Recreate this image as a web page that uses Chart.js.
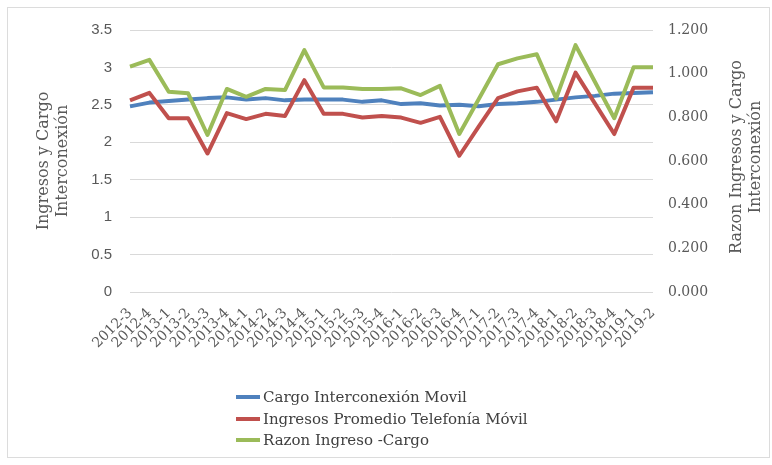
<!DOCTYPE html>
<html>
<head>
<meta charset="utf-8">
<script src="https://cdn.jsdelivr.net/npm/chart.js@4/dist/chart.umd.min.js"></script>
<style>
    html, body { margin: 0; padding: 0; background: #fff; }
    #wrap { position: relative; width: 772px; height: 465px; }
    #frame { position: absolute; left: 7px; top: 7px; width: 761px; height: 449px; border: 1px solid #dcdcdc; pointer-events: none; }
    #legend { position: absolute; left: 236px; top: 387px; font-family: "DejaVu Serif", serif; font-size: 15px; color: #404040; }
    #legend div { height: 21.5px; line-height: 21.5px; white-space: nowrap; }
    #legend span.sw { display: inline-block; width: 24px; height: 4px; vertical-align: middle; margin-right: 3px; position: relative; top: -1px; }
</style>
</head>
<body>
<div id="wrap">
    <canvas id="myChart" width="772" height="465"></canvas>
    <div id="frame"></div>
    <div id="legend"></div>
</div>
<script>
var periodos = ['2012-3', '2012-4', '2013-1', '2013-2', '2013-3', '2013-4', '2014-1', '2014-2', '2014-3', '2014-4',
    '2015-1', '2015-2', '2015-3', '2015-4', '2016-1', '2016-2', '2016-3', '2016-4', '2017-1', '2017-2',
    '2017-3', '2017-4', '2018-1', '2018-2', '2018-3', '2018-4', '2019-1', '2019-2']

var cargoMovil = [2.48, 2.53, 2.55, 2.57, 2.59, 2.60, 2.57, 2.59, 2.56, 2.57, 2.57, 2.57, 2.54, 2.56,
    2.51, 2.52, 2.49, 2.50, 2.48, 2.51, 2.52, 2.54, 2.57, 2.60, 2.62, 2.65, 2.66, 2.67]

var ingresosMovil = [2.56, 2.66, 2.32, 2.32, 1.85, 2.39, 2.31, 2.38, 2.35, 2.83, 2.38, 2.38, 2.33, 2.35,
    2.33, 2.26, 2.34, 1.82, 2.21, 2.59, 2.68, 2.73, 2.28, 2.93, 2.52, 2.11, 2.73, 2.73]

var razonIngresoCargo = [1.032, 1.063, 0.917, 0.910, 0.719, 0.930, 0.894, 0.930, 0.925, 1.108, 0.937, 0.937, 0.930, 0.930,
    0.933, 0.902, 0.944, 0.724, 0.883, 1.043, 1.070, 1.089, 0.887, 1.131, 0.963, 0.796, 1.029, 1.029]

var serieNombres = ['Cargo Interconexión Movil', 'Ingresos Promedio Telefonía Móvil', 'Razon Ingreso -Cargo']
var serieColores = ['#4F81BD', '#C0504D', '#9BBB59']

var tituloIzq = ['Ingresos y Cargo', 'Interconexión']
var tituloDer = ['Razon Ingresos y Cargo', 'Interconexión']

// titulo del eje derecho (se lee de abajo hacia arriba, como el izquierdo)
var rightTitle = {
    id: 'rightTitle',
    afterDraw(chart) {
        const ctx = chart.ctx
        const area = chart.chartArea
        const cy = (area.top + area.bottom) / 2 - 4
        ctx.save()
        ctx.font = '16px "DejaVu Serif"'
        ctx.fillStyle = '#595959'
        ctx.textAlign = 'center'
        ctx.textBaseline = 'middle'
        tituloDer.forEach((t, i) => {
            ctx.save()
            ctx.translate(737 + i * 19, cy)
            ctx.rotate(-Math.PI / 2)
            ctx.fillText(t, 0, 0)
            ctx.restore()
        })
        ctx.restore()
    }
}

var ctx = document.getElementById('myChart').getContext('2d');
var chart = new Chart(ctx, {
    type: 'line',
    data: {
        labels: periodos,
        datasets: [{
            label: serieNombres[0],
            data: cargoMovil,
            borderColor: serieColores[0],
            yAxisID: 'y',
            order: 3
        }, {
            label: serieNombres[1],
            data: ingresosMovil,
            borderColor: serieColores[1],
            yAxisID: 'y',
            order: 2
        }, {
            label: serieNombres[2],
            data: razonIngresoCargo,
            borderColor: serieColores[2],
            yAxisID: 'y1',
            order: 1
        }]
    },
    options: {
        responsive: false,
        animation: false,
        layout: { padding: { top: 30, left: 0, right: 0, bottom: 0 } },
        elements: {
            line: { borderWidth: 4, tension: 0, fill: false, borderJoinStyle: 'round', borderCapStyle: 'butt' },
            point: { radius: 0, hoverRadius: 0 }
        },
        plugins: {
            legend: { display: false },
            tooltip: { enabled: false }
        },
        scales: {
            x: {
                grid: { display: false, drawTicks: false },
                border: { display: false },
                afterFit: s => { s.height = 173 },
                ticks: {
                    autoSkip: false,
                    minRotation: 45,
                    maxRotation: 45,
                    padding: 13,
                    color: '#595959',
                    font: { family: 'DejaVu Serif', size: 14 }
                }
            },
            y: {
                position: 'left',
                min: 0,
                max: 3.5,
                afterFit: s => { s.width = 130 },
                grid: { color: '#d9d9d9', lineWidth: 1, drawTicks: false },
                border: { display: false },
                ticks: {
                    stepSize: 0.5,
                    padding: 18,
                    color: '#595959',
                    font: { family: 'Liberation Sans', size: 15 },
                    callback: v => String(v)
                },
                title: {
                    display: true,
                    text: tituloIzq,
                    color: '#595959',
                    font: { family: 'DejaVu Serif', size: 16, lineHeight: 1.15 },
                    padding: { top: 35 }
                }
            },
            y1: {
                position: 'right',
                min: 0,
                max: 1.2,
                afterFit: s => { s.width = 119 },
                grid: { display: false, drawTicks: false },
                border: { display: false },
                ticks: {
                    stepSize: 0.2,
                    padding: 15,
                    color: '#595959',
                    font: { family: 'DejaVu Serif', size: 14 },
                    callback: v => v.toFixed(3)
                }
            }
        }
    },
    plugins: [rightTitle]
});

// leyenda en columna, como en el original
var legendBox = document.getElementById('legend')
serieNombres.forEach((n, i) => {
    let row = document.createElement('div')
    row.innerHTML = '<span class="sw" style="background:' + serieColores[i] + '"></span>' + n
    legendBox.appendChild(row)
})
</script>
</body>
</html>
